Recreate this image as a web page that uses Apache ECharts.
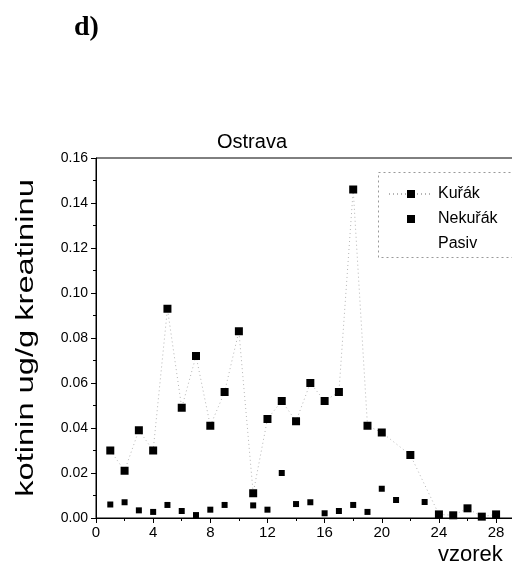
<!DOCTYPE html>
<html>
<head>
<meta charset="utf-8">
<script src="https://cdn.jsdelivr.net/npm/echarts@6/dist/echarts.min.js"></script>
<style>
  html, body { margin: 0; padding: 0; background: #fff; overflow: hidden; }
  /* the original plot is cropped on the right, so the canvas runs past the window */
  #main { width: 536px; height: 579px; }
</style>
</head>
<body>
<div id="main"></div>
<script>
// values (sample number -> kotinin)
var kurakX = [1, 2, 3, 4, 5, 6, 7, 8, 9, 10, 11, 12, 13, 14, 15, 16, 17, 18, 19, 20, 22, 24, 25, 26, 27, 28];
var kurakY = [0.030, 0.021, 0.039, 0.030, 0.093, 0.049, 0.072, 0.041, 0.056, 0.083, 0.011, 0.044, 0.052, 0.043, 0.060, 0.052, 0.056, 0.146, 0.041, 0.038, 0.028, 0.0016, 0.0012, 0.0043, 0.0006, 0.0016];
var nekurakX = [1, 2, 3, 4, 5, 6, 7, 8, 9, 11, 12, 13, 14, 15, 16, 17, 18, 19, 20, 21, 23];
var nekurakY = [0.006, 0.007, 0.0034, 0.0027, 0.0058, 0.0031, 0.0013, 0.0037, 0.0058, 0.0056, 0.0037, 0.020, 0.0062, 0.007, 0.0021, 0.0031, 0.0058, 0.0027, 0.013, 0.008, 0.0071];
var seriesNames = ["Kuřák", "Nekuřák", "Pasiv"];

function pairs(xs, ys) {
  var out = [];
  for (var i = 0; i < xs.length; i++) {
    out.push([xs[i], ys[i]]);
  }
  return out;
}

var myChart = echarts.init(document.getElementById("main"));
var font = "Liberation Sans";

var option = {
  animation: false,
  textStyle: { fontFamily: font, color: "#000" },
  title: {
    text: "Ostrava",
    left: 247,
    top: 127,
    textAlign: "center",
    textStyle: { fontFamily: font, fontSize: 20, fontWeight: "normal", color: "#000" }
  },
  grid: {
    left: 96,
    top: 158,
    bottom: 61,
    right: 0,
    show: true,
    borderColor: "#000",
    borderWidth: 1
  },
  legend: {
    orient: "vertical",
    left: 383,
    top: 181,
    itemWidth: 44,
    itemHeight: 10,
    itemGap: 9,
    textStyle: { fontFamily: font, fontSize: 16, color: "#000" },
    data: [
      { name: seriesNames[0] },
      { name: seriesNames[1] },
      { name: seriesNames[2], itemStyle: { opacity: 0 }, lineStyle: { opacity: 0 } }
    ]
  },
  graphic: [
    {
      type: "rect",
      shape: { x: 378.5, y: 172.5, width: 150, height: 85 },
      style: { fill: "none", stroke: "#999", lineWidth: 1, lineDash: [2, 3] }
    },
    {
      type: "text",
      left: 74,
      top: 14,
      style: { text: "d)", font: "bold 28px 'Liberation Serif'", fill: "#000" }
    },
    {
      type: "text",
      left: 438,
      top: 544,
      style: { text: "vzorek", font: "22px 'Liberation Sans'", fill: "#000" }
    },
    {
      // y axis title, stretched along its length like the scan
      type: "text",
      x: 27,
      y: 338,
      rotation: Math.PI / 2,
      scaleX: 1.42,
      style: {
        text: "kotinin ug/g kreatininu",
        font: "23px 'Liberation Sans'",
        fill: "#000",
        align: "center",
        verticalAlign: "middle"
      }
    }
  ],
  xAxis: {
    type: "value",
    min: 0,
    max: 30,
    interval: 4,
    axisLine: { onZero: false, lineStyle: { color: "#000" } },
    axisTick: { show: true, length: 5, lineStyle: { color: "#000" } },
    minorTick: { show: true, splitNumber: 2, length: 3, lineStyle: { color: "#000" } },
    splitLine: { show: false },
    axisLabel: { fontFamily: font, fontSize: 15, color: "#000", margin: 7 }
  },
  yAxis: {
    type: "value",
    min: 0,
    max: 0.16,
    interval: 0.02,
    axisLine: { show: true, lineStyle: { color: "#000" } },
    axisTick: { show: true, length: 5, lineStyle: { color: "#000" } },
    minorTick: { show: true, splitNumber: 2, length: 3, lineStyle: { color: "#000" } },
    splitLine: { show: false },
    axisLabel: {
      fontFamily: font,
      fontSize: 14,
      color: "#000",
      margin: 8,
      formatter: function(v) { return v.toFixed(2); }
    }
  },
  series: [
    {
      name: seriesNames[0],
      type: "line",
      data: pairs(kurakX, kurakY),
      symbol: "rect",
      symbolSize: 8,
      itemStyle: { color: "#000" },
      lineStyle: { color: "#b4b4b4", width: 1, type: [1, 3] }
    },
    {
      name: seriesNames[1],
      type: "line",
      data: pairs(nekurakX, nekurakY),
      symbol: "rect",
      symbolSize: 6,
      itemStyle: { color: "#000" },
      lineStyle: { width: 0, opacity: 0 }
    },
    {
      name: seriesNames[2],
      type: "line",
      data: [],
      symbol: "none",
      itemStyle: { color: "#fff", opacity: 0 },
      lineStyle: { opacity: 0 }
    }
  ]
};

myChart.setOption(option);
</script>
</body>
</html>
